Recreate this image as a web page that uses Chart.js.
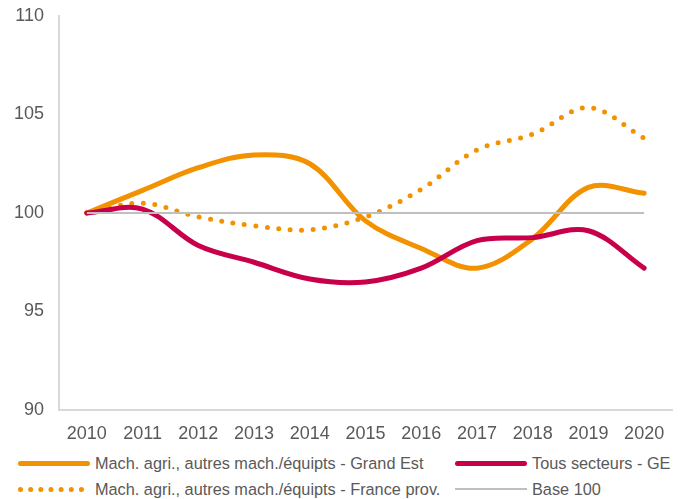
<!DOCTYPE html>
<html>
<head>
<meta charset="utf-8">
<script src="https://cdn.jsdelivr.net/npm/chart.js@4.4.1/dist/chart.umd.min.js"></script>
<style>
body{margin:0;background:#fff;font-family:"Liberation Sans",Arial,sans-serif;}
#wrap{position:relative;width:681px;height:499px;overflow:hidden;}
#chart{position:absolute;left:0;top:0;}
.lg{position:absolute;font-size:16.3px;color:#595959;display:flex;align-items:center;white-space:nowrap;height:20px;}
.sw{display:inline-block;width:72px;margin-right:5px;}
</style>
</head>
<body>
<div id="wrap">
<canvas id="chart" width="681" height="446"></canvas>
<div id="legend"></div>
</div>
<script>
const years = ['2010','2011','2012','2013','2014','2015','2016','2017','2018','2019','2020'];
const grandEst = [100, 101.15, 102.3, 102.95, 102.5, 99.6, 98.2, 97.2, 98.7, 101.3, 101.0];
const tousSecteurs = [100, 100.2, 98.35, 97.5, 96.65, 96.5, 97.2, 98.6, 98.75, 99.1, 97.2];
const franceProv = [100, 100.5, 99.8, 99.35, 99.15, 99.8, 101.2, 103.2, 104.0, 105.35, 103.8];
const base100 = [100, 100, 100, 100, 100, 100, 100, 100, 100, 100, 100];
const names = [
	'Mach. agri., autres mach./équipts - Grand Est',
	'Tous secteurs - GE',
	'Mach. agri., autres mach./équipts - France prov.',
	'Base 100'
];

const ORANGE = '#f39200';
const CRIMSON = '#c8004b';
const GREY = '#bfbfbf';
const TXT = '#595959';
const FONT = '"Liberation Sans", Arial, sans-serif';

new Chart(document.getElementById('chart'), {
	type: 'line',
	data: {
		labels: years,
		datasets: [
			{ label: names[0], data: grandEst, borderColor: ORANGE, borderWidth: 5, tension: 0.35, pointRadius: 0, order: 3, borderCapStyle: 'round' },
			{ label: names[1], data: tousSecteurs, borderColor: CRIMSON, borderWidth: 5, tension: 0.35, pointRadius: 0, order: 1, borderCapStyle: 'round' },
			{ label: names[2], data: franceProv, borderColor: ORANGE, borderWidth: 5, borderDash: [0, 11.5], borderCapStyle: 'round', tension: 0.35, pointRadius: 0, order: 2 },
			{ label: names[3], data: base100, borderColor: GREY, borderWidth: 2, tension: 0, pointRadius: 0, order: 0 }
		]
	},
	options: {
		responsive: false,
		devicePixelRatio: 1,
		animation: false,
		layout: { padding: { top: 16, right: 9, left: 0, bottom: 0 } },
		plugins: { legend: { display: false }, tooltip: { enabled: false } },
		scales: {
			x: {
				offset: true,
				grid: { display: false, drawTicks: false },
				border: { color: '#d9d9d9', width: 2 },
				ticks: { color: TXT, font: { size: 18, family: FONT }, padding: 13, maxRotation: 0 },
				afterFit: s => { s.height = 36; }
			},
			y: {
				min: 90, max: 110,
				grid: { display: false, drawTicks: false },
				border: { color: '#d9d9d9', width: 2 },
				ticks: { stepSize: 5, color: TXT, font: { size: 18, family: FONT }, padding: 15 },
				afterFit: s => { s.width = 59; s.paddingTop = 0; s.paddingBottom = 0; }
			}
		}
	}
});

// legend as html, two columns
const swatches = [
	'height:5px;background:' + ORANGE + ';border-radius:3px;',
	'height:5px;background:' + CRIMSON + ';border-radius:3px;',
	'height:0;width:66px;margin-right:11px;border-top:5px dotted ' + ORANGE + ';',
	'height:2px;background:' + GREY + ';'
];
const spots = [[18, 453], [455, 453], [18, 479], [455, 479]];
const legendEl = document.getElementById('legend');
names.forEach((n, i) => {
	const d = document.createElement('div');
	d.className = 'lg';
	d.style.left = spots[i][0] + 'px';
	d.style.top = spots[i][1] + 'px';
	d.innerHTML = '<span class="sw" style="' + swatches[i] + '"></span><span>' + n + '</span>';
	legendEl.appendChild(d);
});
</script>
</body>
</html>
